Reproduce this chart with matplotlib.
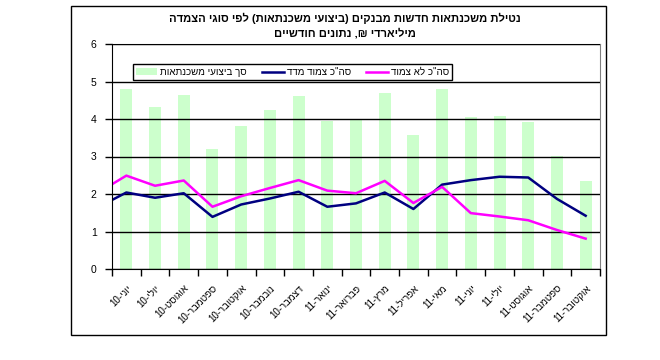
import matplotlib
matplotlib.use("Agg")
import matplotlib.pyplot as plt
from matplotlib.patches import Rectangle
import numpy as np

plt.rcParams['font.family'] = ['Liberation Sans', 'DejaVu Sans']

# Hebrew typed in logical order, flipped to visual order by vis()
months = ["יוני", "יולי", "אוגוסט", "ספטמבר", "אוקטובר", "נובמבר", "דצמבר",
          "ינואר", "פברואר", "מרץ", "אפריל", "מאי", "יוני", "יולי",
          "אוגוסט", "ספטמבר", "אוקטובר"]
years = ["10"] * 7 + ["11"] * 10

total = [4.80, 4.32, 4.64, 3.20, 3.81, 4.24, 4.61, 3.95, 4.01,
         4.69, 3.57, 4.80, 4.05, 4.08, 3.92, 3.01, 2.35]
# the lines start one month earlier (May-10), that point is cut off by the axis
indexed = [1.64, 2.04, 1.90, 2.02, 1.39, 1.72, 1.88, 2.06, 1.66, 1.75,
           2.04, 1.60, 2.25, 2.37, 2.46, 2.44, 1.87, 1.42]
non_indexed = [2.03, 2.49, 2.22, 2.36, 1.66, 1.94, 2.16, 2.37, 2.09, 2.02,
               2.35, 1.76, 2.19, 1.49, 1.40, 1.30, 1.04, 0.81]

title1 = "נטילת משכנתאות חדשות מבנקים (ביצועי משכנתאות) לפי סוגי הצמדה"
title2 = "מיליארדי ₪, נתונים חודשיים"
lbl_total = "סך ביצועי משכנתאות"
lbl_indexed = 'סה"כ צמוד מדד'
lbl_non = 'סה"כ לא צמוד'


def vis(s):
    return s[::-1].translate(str.maketrans("()", ")("))


fig = plt.figure(figsize=(6.6, 3.6), dpi=100)
W, H = 660, 360
ax = fig.add_axes([112 / W, 1 - 269 / H, (600 - 112) / W, (269 - 44) / H])

x = np.arange(len(total))
xl = np.arange(-1, len(total))
bars = ax.bar(x, total, width=0.42, color="#ccffcc", zorder=1, label=vis(lbl_total))
l1, = ax.plot(xl, indexed, color="#000080", lw=1.8, zorder=3, label=vis(lbl_indexed))
l2, = ax.plot(xl, non_indexed, color="#ff00ff", lw=1.8, zorder=3, label=vis(lbl_non))

ax.set_xlim(-0.5, len(total) - 0.5)
ax.set_ylim(0, 6)
ax.set_yticks(range(0, 7))
ax.tick_params(axis="y", direction="out", length=5, width=1, labelsize=7.5, pad=6)
ax.yaxis.grid(True, color="black", lw=1, zorder=1.5)
ax.set_axisbelow(False)

ax.set_xticks(x)
ax.set_xticklabels([f"{y}-{vis(m)}" for m, y in zip(months, years)],
                   rotation=45, ha="right", rotation_mode="anchor", fontsize=7)
ax.tick_params(axis="x", which="major", length=0, pad=10)
ax.set_xticks(np.arange(-0.5, len(total)), minor=True)
ax.tick_params(axis="x", which="minor", direction="out", length=5, width=1)

for side in ["top", "right"]:
    ax.spines[side].set_color("#808080")
    ax.spines[side].set_zorder(2)
for side in ["left", "bottom"]:
    ax.spines[side].set_color("black")
    ax.spines[side].set_zorder(4)

leg = ax.legend([bars, l1, l2], [vis(lbl_total), vis(lbl_indexed), vis(lbl_non)],
                loc="upper left", bbox_to_anchor=(133 / W, 1 - 64 / H),
                bbox_transform=fig.transFigure, ncol=3, fontsize=7,
                frameon=True, fancybox=False, edgecolor="black", framealpha=1,
                handlelength=2.2, handleheight=0.7, handletextpad=0.3,
                columnspacing=1.6, borderpad=0.3, borderaxespad=0)
leg.get_frame().set_linewidth(1)

fig.text(345 / W, 1 - 18 / H, vis(title1), ha="center", va="center",
         fontsize=8, fontweight="bold")
fig.text(345 / W, 1 - 33 / H, vis(title2), ha="center", va="center",
         fontsize=8, fontweight="bold")

fig.patches.append(Rectangle((71 / W, 1 - 335 / H), (606 - 71) / W, (335 - 6) / H,
                             transform=fig.transFigure, fill=False,
                             edgecolor="black", lw=1))

fig.savefig("out.png", dpi=100)
